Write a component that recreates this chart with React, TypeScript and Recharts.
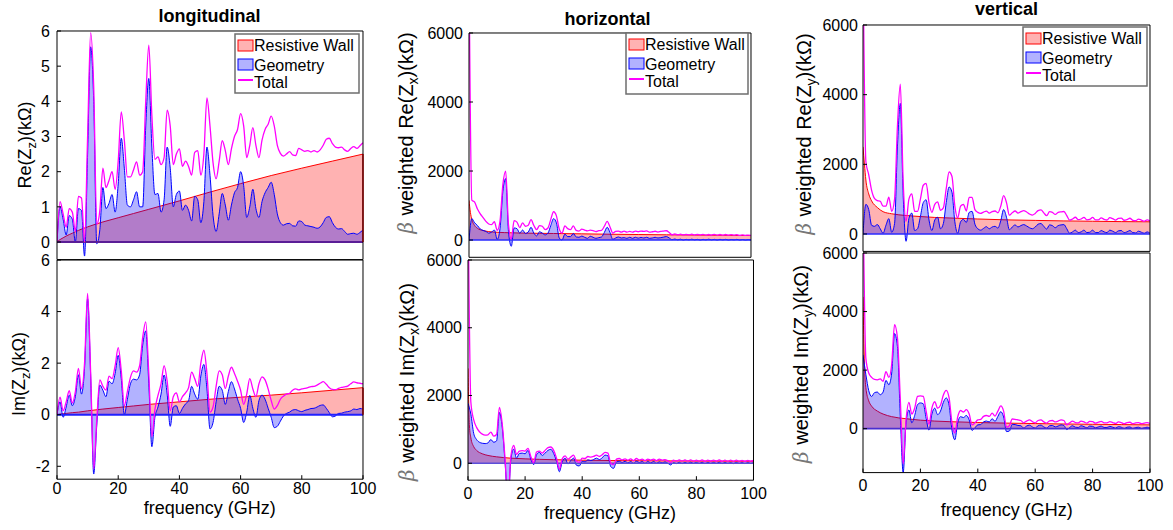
import React from 'react';
import { ComposedChart, Area, Line, XAxis, YAxis, ReferenceLine } from 'recharts';

const FONT = '"Liberation Sans", Arial, Helvetica, sans-serif';
const RED = '#ff0000';
const BLUE = '#0000ff';
const MAGENTA = '#ff00ff';

// frequency grid (GHz) for the geometry and total curves
const freqGHz = [
  0, 1, 2, 3, 4, 5, 6, 7, 8, 9,
  10, 11, 12, 13, 14, 15, 16, 17, 18, 19,
  20, 21, 22, 23, 24, 25, 26, 27, 28, 29,
  30, 31, 32, 33, 34, 35, 36, 37, 38, 39,
  40, 41, 42, 43, 44, 45, 46, 47, 48, 49,
  50, 51, 52, 53, 54, 55, 56, 57, 58, 59,
  60, 61, 62, 63, 64, 65, 66, 67, 68, 69,
  70, 71, 72, 73, 74, 75, 76, 77, 78, 79,
  80, 81, 82, 83, 84, 85, 86, 87, 88, 89,
  90, 91, 92, 93, 94, 95, 96, 97, 98, 99, 100,
];
// resistive wall curves are smooth, a coarser grid is enough
const wallFreqGHz = [0, 0.5, 1, 2, 3, 5, 7, 10, 15, 20, 25, 30, 40, 50, 60, 70, 80, 90, 100];
const freqTicks = [0, 20, 40, 60, 80, 100];

// longitudinal, kOhm
const reTotalZ = [
  0, 1.15, 0.8, 0.42, 0.95, 0.85, 0.3, 1.3, 1.25, 0.0,
  3.0, 5.95, 4.4, 0.5, 0.9, 2.1, 1.55, 1.75, 2.0, 1.5,
  2.3, 3.7, 2.9, 1.85, 1.85, 2.05, 2.28, 1.9, 2.0, 4.0,
  5.6, 3.6, 2.35, 2.42, 2.2, 2.4, 3.75, 3.3, 2.2, 2.5,
  2.65, 2.15, 2.3, 2.15, 1.9, 2.55, 2.6, 1.9, 2.5, 4.1,
  3.3, 2.25, 1.8, 2.3, 2.88, 2.6, 2.2, 2.65, 3.0, 3.2,
  3.65, 3.3, 2.4, 2.75, 3.25, 2.75, 2.4, 2.9, 3.2, 3.35,
  3.58, 3.3, 2.75, 2.52, 2.44, 2.5, 2.57, 2.48, 2.46, 2.66,
  2.62, 2.58, 2.6, 2.56, 2.6, 2.56, 2.62, 2.75, 2.92, 2.95,
  2.8, 2.7, 2.68, 2.7, 2.62, 2.58, 2.66, 2.71, 2.66, 2.74, 2.82,
];
const reGeomZ = [
  0, 1.0, 0.65, 0.2, 0.75, 0.65, 0.0, 0.95, 0.9, -0.4,
  2.5, 5.55, 4.0, -0.05, 0.35, 1.55, 0.95, 1.1, 1.35, 0.85,
  1.65, 2.95, 2.1, 1.05, 1.0, 1.2, 1.43, 1.0, 1.0, 3.3,
  4.65, 2.7, 1.35, 1.38, 0.85, 1.2, 2.7, 2.1, 1.0, 1.35,
  1.45, 0.9, 1.05, 0.9, 0.6, 1.3, 1.2, 0.55, 1.15, 2.7,
  1.9, 0.75, 0.3, 0.8, 1.38, 1.05, 0.62, 1.05, 1.4, 1.55,
  2.0, 1.6, 0.7, 1.0, 1.5, 0.95, 0.7, 1.15, 1.4, 1.55,
  1.7, 1.35, 0.8, 0.55, 0.48, 0.52, 0.53, 0.46, 0.45, 0.6,
  0.58, 0.48, 0.46, 0.44, 0.42, 0.39, 0.43, 0.55, 0.7, 0.72,
  0.55, 0.42, 0.37, 0.38, 0.3, 0.22, 0.24, 0.25, 0.22, 0.27, 0.34,
];
const reWallZ = [0, 0.04, 0.07, 0.12, 0.17, 0.25, 0.33, 0.43, 0.57, 0.69, 0.81, 0.93, 1.17, 1.42, 1.66, 1.89, 2.1, 2.3, 2.5];

const imTotalZ = [
  0, 0.68, 0.15, 0.5, 0.93, 0.45, 0.9, 1.8, 1.0, 2.0,
  4.7, 1.6, -2.1, -0.2, 1.35, 1.1, 0.95, 1.5, 1.4, 1.9,
  2.6, 1.7, 0.35, 0.9, 1.45, 1.7, 1.65, 1.9, 3.0, 3.6,
  1.6, -0.85, 0.2, 0.75, 1.2, 1.9, 1.3, 0.15, 0.7, 0.85,
  0.5, 0.7, 0.85, 1.05, 1.65, 1.4, 1.1, 2.0, 2.5, 1.6,
  0.1, 0.3, 1.1, 1.7, 1.55, 1.02, 1.5, 1.84, 1.6, 1.3,
  0.95, 0.4, 0.8, 1.4, 1.0, 0.7, 1.2, 1.47, 1.35, 1.0,
  0.55, 0.22, 0.35, 0.6, 0.72, 0.8, 0.83, 0.95, 1.0, 0.96,
  1.0, 1.02, 1.05, 1.09, 1.1, 1.15, 1.22, 1.28, 1.18, 1.05,
  0.98, 0.97, 1.02, 1.06, 1.08, 1.11, 1.2, 1.27, 1.24, 1.22, 1.2,
];
const imGeomZ = [
  0, 0.5, -0.1, 0.3, 0.76, 0.35, 0.7, 1.55, 0.8, 1.8,
  4.5, 1.5, -2.3, -0.4, 1.15, 0.95, 0.7, 1.3, 1.2, 1.6,
  2.3, 1.4, 0.0, 0.6, 1.2, 1.38, 1.35, 1.55, 2.7, 3.25,
  1.2, -1.24, -0.1, 0.3, 0.8, 1.54, 0.8, -0.45, 0.3, 0.35,
  0.05, 0.25, 0.42, 0.55, 1.1, 0.8, 0.6, 1.5, 1.95, 1.0,
  -0.55, -0.3, 0.5, 1.1, 0.95, 0.4, 0.9, 1.28, 1.0, 0.6,
  0.25, -0.3, 0.1, 0.75, 0.25, -0.1, 0.55, 0.76, 0.6, 0.25,
  -0.1, -0.5, -0.45, -0.25, -0.05, 0.05, 0.1, 0.18, 0.2, 0.15,
  0.12, 0.17, 0.2, 0.24, 0.25, 0.3, 0.36, 0.38, 0.25, 0.08,
  -0.08, -0.05, 0.05, 0.06, 0.1, 0.12, 0.15, 0.22, 0.2, 0.24, 0.22,
];
const imWallZ = [0, 0.01, 0.02, 0.04, 0.05, 0.08, 0.1, 0.15, 0.22, 0.28, 0.34, 0.4, 0.5, 0.6, 0.68, 0.76, 0.85, 0.95, 1.05];

// horizontal, beta weighted, kOhm
const reTotalX = [
  8000, 1160, 1100, 900, 760, 650, 540, 465, 445, 530,
  280, 550, 1600, 2000, 450, 30, 560, 520, 360, 500,
  400, 430, 590, 420, 300, 420, 400, 300, 350, 600,
  820, 700, 320, 200, 410, 330, 300, 410, 280, 260,
  314, 290, 265, 290, 275, 245, 270, 280, 400, 540,
  380, 200, 250, 260, 230, 260, 230, 250, 230, 260,
  240, 260, 250, 265, 230, 240, 255, 230, 250, 260,
  270, 220, 150, 180, 150, 170, 145, 165, 150, 170,
  145, 165, 145, 165, 140, 160, 145, 165, 140, 160,
  145, 160, 140, 155, 140, 155, 135, 150, 135, 145, 137,
];
const reGeomX = [
  0, 620, 500, 420, 320, 280, 250, 200, 230, 290,
  20, 330, 1400, 1780, 250, -180, 350, 330, 200, 290,
  190, 230, 370, 200, 120, 240, 200, 150, 200, 420,
  620, 500, 60, 0, 170, 100, 100, 190, 90, 80,
  115, 80, 50, 110, 80, 50, 70, 90, 220, 370,
  220, 20, 60, 90, 60, 70, 50, 80, 50, 80,
  55, 75, 60, 80, 50, 60, 80, 60, 70, 85,
  100, 60, 10, 30, 5, 25, 0, 20, 5, 25,
  5, 20, 0, 20, 5, 25, 5, 20, 0, 20,
  5, 20, 0, 15, 5, 20, 0, 15, 0, 10, 5,
];
const reWallX = [1150, 800, 600, 420, 340, 275, 245, 225, 210, 200, 195, 190, 180, 168, 160, 152, 145, 138, 130];

const imTotalX = [
  8000, 1800, 1280, 1060, 930, 860, 830, 840, 920, 800,
  850, 1650, 1150, 100, -1200, 200, 530, 260, 360, 370,
  360, 440, 200, 10, 330, 360, 300, 380, 460, 480,
  380, 150, -180, 130, 220, 120, 180, 240, 60, 30,
  150, 140, 200, 180, 200, 240, 200, 250, 320, 300,
  0, -40, 120, 140, 100, 130, 90, 130, 80, 140,
  100, 120, 80, 120, 90, 120, 80, 120, 90, 110,
  70, 20, 90, 60, 100, 60, 100, 60, 100, 60,
  90, 60, 100, 55, 95, 60, 95, 60, 100, 55,
  90, 60, 90, 55, 90, 60, 85, 55, 85, 60, 85,
];
const imGeomX = [
  1770, 1450, 880, 700, 620, 590, 580, 600, 700, 620,
  660, 1500, 1050, 0, -1200, 100, 420, 150, 290, 300,
  280, 380, 120, -40, 250, 320, 230, 300, 380, 410,
  290, 60, -250, 40, 150, -20, 80, 150, -60, -80,
  60, 40, 100, 80, 110, 150, 110, 160, 240, 220,
  -100, -150, 40, 60, 20, 60, 10, 50, 0, 60,
  20, 50, 0, 50, 10, 50, 0, 40, 10, 40,
  0, -50, 20, -10, 30, -10, 30, -5, 30, -5,
  25, -5, 30, -10, 25, -5, 25, -5, 30, -10,
  25, -5, 20, -10, 25, -5, 20, -10, 20, -5, 20,
];
const imWallX = [2800, 1100, 750, 490, 380, 280, 230, 190, 150, 130, 115, 105, 90, 80, 75, 70, 66, 63, 60];

// vertical, beta weighted, kOhm
const reTotalY = [
  8000, 2080, 1700, 1250, 1020, 960, 940, 800, 800, 1060,
  650, 1000, 3100, 4300, 1500, 360, 1000, 1150, 650, 650,
  1000, 1400, 1450, 900, 620, 850, 920, 680, 750, 1300,
  1780, 1650, 800, 460, 800, 850, 660, 1050, 1050, 700,
  620, 590, 630, 657, 600, 640, 660, 610, 800, 1100,
  900, 540, 610, 660, 600, 640, 670, 630, 575, 540,
  590, 670, 690, 605, 525, 640, 620, 560, 620, 636,
  645, 525, 395, 430, 480, 410, 430, 478, 407, 416,
  475, 405, 404, 463, 422, 401, 470, 439, 398, 447,
  455, 394, 413, 452, 391, 380, 429, 398, 367, 406, 370,
];
const reGeomY = [
  0, 850, 700, 250, 220, 270, 150, 20, 250, 440,
  50, 300, 2500, 3750, 1100, -210, 450, 600, 100, 150,
  500, 900, 980, 400, 100, 400, 480, 150, 300, 900,
  1350, 1200, 350, 20, 350, 420, 330, 620, 650, 280,
  150, 110, 160, 210, 150, 200, 220, 170, 380, 700,
  480, 120, 200, 260, 200, 240, 270, 230, 180, 150,
  200, 280, 300, 220, 140, 260, 240, 180, 240, 260,
  270, 150, 20, 60, 110, 40, 60, 110, 40, 50,
  110, 40, 40, 100, 60, 40, 110, 80, 40, 90,
  100, 40, 60, 100, 40, 30, 80, 50, 20, 60, 20,
];
const reWallY = [2500, 2000, 1550, 1150, 950, 760, 640, 580, 530, 500, 475, 460, 430, 405, 390, 375, 365, 355, 350];

const imTotalY = [
  8000, 2400, 1900, 1750, 1680, 1670, 1700, 1620, 1950, 1750,
  2200, 3550, 3100, 1000, -1200, 300, 900, 500, 700, 1100,
  1120, 1100, 600, 150, 700, 920, 700, 800, 1150, 1310,
  1050, 200, -150, 400, 620, 570, 650, 500, 130, 200,
  300, 320, 420, 450, 420, 530, 430, 600, 780, 600,
  50, 100, 330, 320, 300, 280, 200, 260, 300, 240,
  200, 280, 300, 230, 190, 270, 280, 230, 260, 300,
  280, 130, 200, 260, 210, 200, 260, 230, 190, 250,
  240, 190, 220, 250, 200, 200, 240, 210, 180, 230,
  210, 170, 210, 220, 170, 200, 210, 170, 190, 210, 180,
];
const imGeomY = [
  2520, 1850, 1300, 1100, 1230, 1250, 1160, 1250, 1650, 1500,
  1900, 3250, 2800, 400, -1500, 200, 640, 200, 450, 820,
  880, 850, 350, -50, 500, 700, 480, 600, 900, 1050,
  800, -50, -380, 200, 410, 380, 450, 300, -60, 30,
  130, 140, 230, 260, 230, 340, 250, 420, 580, 400,
  -100, -80, 150, 140, 110, 100, 20, 90, 120, 60,
  20, 100, 120, 60, 20, 100, 110, 60, 90, 130,
  110, -30, 40, 100, 50, 40, 100, 70, 30, 90,
  80, 30, 60, 90, 40, 40, 80, 50, 20, 70,
  50, 10, 50, 60, 10, 40, 50, 10, 30, 50, 20,
];
const imWallY = [4500, 2200, 1400, 950, 770, 600, 500, 410, 340, 290, 260, 240, 210, 190, 175, 160, 150, 140, 130];

type Row = { f: number; total?: number; geom?: number; wall?: number };

function buildRows(total: number[], geom: number[], wall: number[]): Row[] {
  const rows = new Map<number, Row>();
  freqGHz.forEach((f, i) => rows.set(f, { f, total: total[i], geom: geom[i] }));
  wallFreqGHz.forEach((f, i) => {
    const row = rows.get(f) ?? { f };
    row.wall = wall[i];
    rows.set(f, row);
  });
  return [...rows.values()].sort((a, b) => a.f - b.f);
}

type Box = { x0: number; x1: number; y0: number; y1: number };

interface PanelProps {
  rows: Row[];
  box: Box;
  domain: [number, number];
  yTicks: number[];
  showFreq: boolean;
  freqMargin?: number;
  yMargin: number;
  zeroColor: string;
  zeroWidth: number;
  edgeTop?: number;
}

const PAD_L = 60;
const PAD_R = 16;
const PAD_T = 14;
const PAD_B = 34;
// thickness given to the unlabelled top / right axes
const SIDE = 1;

const tickFont = { fontSize: 16, fill: '#000', fontFamily: FONT };

function Panel({ rows, box, domain, yTicks, showFreq, freqMargin = 8, yMargin, zeroColor, zeroWidth, edgeTop }: PanelProps) {
  const w = box.x1 - box.x0 + PAD_L + PAD_R;
  const h = box.y1 - box.y0 + PAD_T + PAD_B;
  return (
    <div style={{ position: 'absolute', left: box.x0 - PAD_L, top: box.y0 - PAD_T }}>
      <ComposedChart
        width={w}
        height={h}
        data={rows}
        margin={{ top: PAD_T - SIDE, right: PAD_R - SIDE, bottom: PAD_B - SIDE, left: 0 }}
      >
        <XAxis
          xAxisId="bottom"
          dataKey="f"
          type="number"
          domain={[0, 100]}
          ticks={freqTicks}
          interval={0}
          allowDataOverflow
          height={SIDE}
          stroke="#000"
          tickSize={-4}
          tickMargin={freqMargin}
          tick={showFreq ? tickFont : false}
        />
        <XAxis
          xAxisId="top"
          orientation="top"
          dataKey="f"
          type="number"
          domain={[0, 100]}
          ticks={freqTicks}
          interval={0}
          allowDataOverflow
          height={SIDE}
          stroke="#000"
          tickSize={-4}
          tick={false}
        />
        <YAxis
          yAxisId="left"
          type="number"
          domain={domain}
          ticks={yTicks}
          interval={0}
          allowDataOverflow
          width={PAD_L}
          stroke="#000"
          tickSize={-4}
          tickMargin={yMargin}
          tick={tickFont}
        />
        <YAxis
          yAxisId="right"
          orientation="right"
          type="number"
          domain={domain}
          ticks={yTicks}
          interval={0}
          allowDataOverflow
          width={SIDE}
          stroke="#000"
          tickSize={-4}
          tick={false}
        />
        <Area
          xAxisId="bottom"
          yAxisId="left"
          type="monotone"
          dataKey="wall"
          stroke={RED}
          strokeWidth={1}
          fill={RED}
          fillOpacity={0.3}
          connectNulls
          dot={false}
          activeDot={false}
          isAnimationActive={false}
        />
        <Area
          xAxisId="bottom"
          yAxisId="left"
          type="monotone"
          dataKey="geom"
          stroke={BLUE}
          strokeWidth={1}
          fill={BLUE}
          fillOpacity={0.3}
          connectNulls
          dot={false}
          activeDot={false}
          isAnimationActive={false}
        />
        <ReferenceLine xAxisId="bottom" yAxisId="left" y={0} stroke={zeroColor} strokeWidth={zeroWidth} />
        {edgeTop !== undefined && (
          <ReferenceLine
            xAxisId="bottom"
            yAxisId="left"
            segment={[{ x: 100, y: 0 }, { x: 100, y: edgeTop }]}
            stroke={RED}
            strokeWidth={1.5}
          />
        )}
        <Line
          xAxisId="bottom"
          yAxisId="left"
          type="monotone"
          dataKey="total"
          stroke={MAGENTA}
          strokeWidth={1.3}
          connectNulls
          dot={false}
          activeDot={false}
          isAnimationActive={false}
        />
      </ComposedChart>
    </div>
  );
}

function LegendBox({ x, y, w, h }: { x: number; y: number; w: number; h: number }) {
  return (
    <g fontSize={16} fill="#000">
      <rect x={x} y={y} width={w} height={h} fill="#fff" stroke="#6e6e6e" strokeWidth={1.5} />
      <rect x={x + 3} y={y + 6} width={15} height={11} fill={RED} fillOpacity={0.3} stroke={RED} />
      <text x={x + 19} y={y + 17}>Resistive Wall</text>
      <rect x={x + 3} y={y + 25} width={15} height={11} fill={BLUE} fillOpacity={0.3} stroke={BLUE} />
      <text x={x + 19} y={y + 36.5}>Geometry</text>
      <line x1={x + 3} x2={x + 18} y1={y + 46} y2={y + 46} stroke={MAGENTA} strokeWidth={2} />
      <text x={x + 19} y={y + 54}>Total</text>
    </g>
  );
}

function YTitle({ x, y, part, sub, beta }: { x: number; y: number; part: string; sub: string; beta?: boolean }) {
  return (
    <text
      transform={`translate(${x},${y}) rotate(-90)`}
      textAnchor="middle"
      fontSize={beta ? 20 : 18}
      wordSpacing={beta ? 1 : 0}
    >
      {beta && (
        <tspan fontFamily='"DejaVu Serif", serif' fontStyle="italic" fill="#777">
          β
        </tspan>
      )}
      {beta ? ' weighted ' : ''}
      {part}(Z
      <tspan dy={5} fontSize={beta ? 14 : 13}>
        {sub}
      </tspan>
      <tspan dy={-5}>)(kΩ)</tspan>
    </text>
  );
}

const yTicksRe = [0, 1, 2, 3, 4, 5, 6];
const yTicksIm = [-2, 0, 2, 4, 6];
const yTicksK = [0, 2000, 4000, 6000];

export default function App() {
  return (
    <div
      style={{
        position: 'absolute',
        left: 0,
        top: 0,
        width: 1173,
        height: 530,
        background: '#fff',
        overflow: 'hidden',
        fontFamily: FONT,
      }}
    >
      <Panel
        rows={buildRows(reTotalZ, reGeomZ, reWallZ)}
        box={{ x0: 57, x1: 363, y0: 31, y1: 259.6 }}
        domain={[-0.5, 6]}
        yTicks={yTicksRe}
        showFreq={false}
        yMargin={11}
        zeroColor="#5a1d96"
        zeroWidth={1.8}
        edgeTop={reWallZ[reWallZ.length - 1]}
      />
      <Panel
        rows={buildRows(reTotalX, reGeomX, reWallX)}
        box={{ x0: 469, x1: 751, y0: 33, y1: 257.3 }}
        domain={[-500, 6000]}
        yTicks={yTicksK}
        showFreq={false}
        yMargin={10}
        zeroColor="#2a2aff"
        zeroWidth={1.5}
      />
      <Panel
        rows={buildRows(reTotalY, reGeomY, reWallY)}
        box={{ x0: 863, x1: 1150, y0: 25, y1: 251.4 }}
        domain={[-500, 6000]}
        yTicks={yTicksK}
        showFreq={false}
        yMargin={9}
        zeroColor="#2a2aff"
        zeroWidth={1.5}
      />
      <Panel
        rows={buildRows(imTotalZ, imGeomZ, imWallZ)}
        box={{ x0: 57, x1: 363, y0: 260, y1: 479.2 }}
        domain={[-2.5, 6]}
        yTicks={yTicksIm}
        showFreq
        freqMargin={7}
        yMargin={11}
        zeroColor="#1f1fff"
        zeroWidth={2}
        edgeTop={imWallZ[imWallZ.length - 1]}
      />
      <Panel
        rows={buildRows(imTotalX, imGeomX, imWallX)}
        box={{ x0: 467.5, x1: 753, y0: 260, y1: 480.2 }}
        domain={[-500, 6000]}
        yTicks={yTicksK}
        showFreq
        freqMargin={11.5}
        yMargin={10}
        zeroColor="#5b4fd8"
        zeroWidth={1.5}
      />
      <Panel
        rows={buildRows(imTotalY, imGeomY, imWallY)}
        box={{ x0: 863, x1: 1150, y0: 253, y1: 472.6 }}
        domain={[-1500, 6000]}
        yTicks={yTicksK}
        showFreq
        freqMargin={11}
        yMargin={9}
        zeroColor="#4a2fd0"
        zeroWidth={1.8}
      />

      <svg
        width={1173}
        height={530}
        style={{ position: 'absolute', left: 0, top: 0, pointerEvents: 'none' }}
        fontFamily={FONT}
      >
        <g fontSize={18} fontWeight="bold" textAnchor="middle">
          <text x={209.5} y={21.5}>longitudinal</text>
          <text x={607.5} y={25}>horizontal</text>
          <text x={1006.5} y={15}>vertical</text>
        </g>
        <g fontSize={18} textAnchor="middle">
          <text x={209.7} y={514}>frequency (GHz)</text>
          <text x={610} y={519}>frequency (GHz)</text>
          <text x={1006.7} y={516}>frequency (GHz)</text>
        </g>
        <YTitle x={30.5} y={145} part="Re" sub="z" />
        <YTitle x={25} y={374} part="Im" sub="z" />
        <YTitle x={413} y={133} part="Re" sub="x" beta />
        <YTitle x={414} y={382} part="Im" sub="x" beta />
        <YTitle x={811} y={134} part="Re" sub="y" beta />
        <YTitle x={808} y={364} part="Im" sub="y" beta />
        <LegendBox x={235} y={34} w={124} h={59} />
        <LegendBox x={626} y={33} w={122} h={61} />
        <LegendBox x={1023} y={27} w={124} h={59} />
      </svg>
    </div>
  );
}
